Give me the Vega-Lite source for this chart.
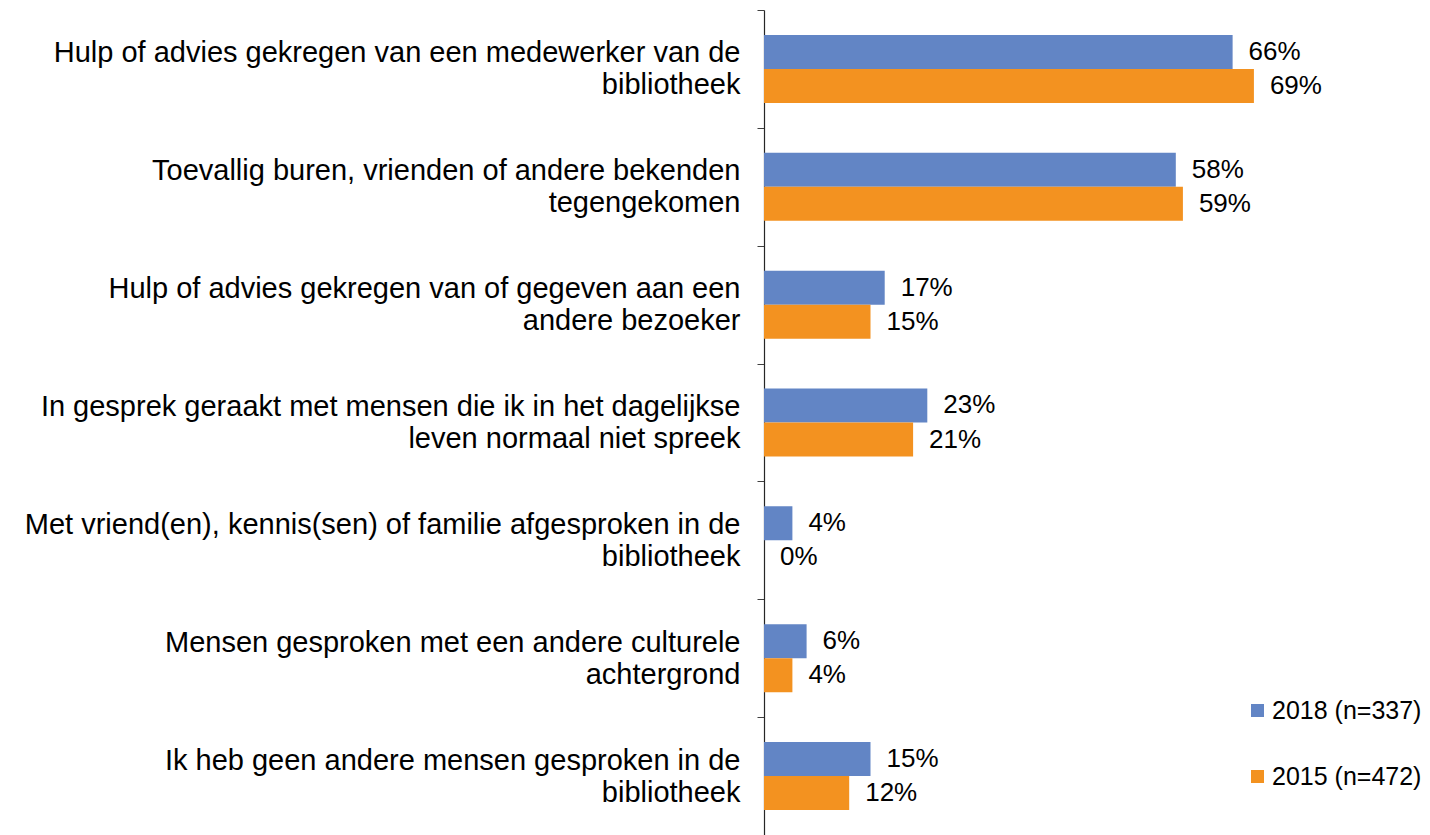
{
  "$schema": "https://vega.github.io/schema/vega-lite/v6.json",
  "autosize": {"type": "none"},
  "padding": {"left": 764, "top": 10, "right": 0, "bottom": 0},
  "width": 666,
  "height": 825,
  "background": "white",
  "config": {
    "view": {"stroke": null},
    "font": "Liberation Sans"
  },
  "data": {
    "values": [
      {"cat": "Hulp of advies gekregen van een medewerker van de|bibliotheek", "series": "2018 (n=337)", "value": 0.66},
      {"cat": "Hulp of advies gekregen van een medewerker van de|bibliotheek", "series": "2015 (n=472)", "value": 0.69},
      {"cat": "Toevallig buren, vrienden of andere bekenden|tegengekomen", "series": "2018 (n=337)", "value": 0.58},
      {"cat": "Toevallig buren, vrienden of andere bekenden|tegengekomen", "series": "2015 (n=472)", "value": 0.59},
      {"cat": "Hulp of advies gekregen van of gegeven aan een|andere bezoeker", "series": "2018 (n=337)", "value": 0.17},
      {"cat": "Hulp of advies gekregen van of gegeven aan een|andere bezoeker", "series": "2015 (n=472)", "value": 0.15},
      {"cat": "In gesprek geraakt met mensen die ik in het dagelijkse|leven normaal niet spreek", "series": "2018 (n=337)", "value": 0.23},
      {"cat": "In gesprek geraakt met mensen die ik in het dagelijkse|leven normaal niet spreek", "series": "2015 (n=472)", "value": 0.21},
      {"cat": "Met vriend(en), kennis(sen) of familie afgesproken in de|bibliotheek", "series": "2018 (n=337)", "value": 0.04},
      {"cat": "Met vriend(en), kennis(sen) of familie afgesproken in de|bibliotheek", "series": "2015 (n=472)", "value": 0.0},
      {"cat": "Mensen gesproken met een andere culturele|achtergrond", "series": "2018 (n=337)", "value": 0.06},
      {"cat": "Mensen gesproken met een andere culturele|achtergrond", "series": "2015 (n=472)", "value": 0.04},
      {"cat": "Ik heb geen andere mensen gesproken in de|bibliotheek", "series": "2018 (n=337)", "value": 0.15},
      {"cat": "Ik heb geen andere mensen gesproken in de|bibliotheek", "series": "2015 (n=472)", "value": 0.12}
    ]
  },
  "encoding": {
    "y": {
      "field": "cat",
      "type": "nominal",
      "sort": null,
      "scale": {"paddingInner": 0, "paddingOuter": 0},
      "axis": {
        "title": null,
        "labelExpr": "split(datum.label, '|')",
        "labelFontSize": 29,
        "labelLineHeight": 32,
        "labelOffset": -16,
        "labelColor": "#000000",
        "labelPadding": 17,
        "labelLimit": 0,
        "tickBand": "extent",
        "tickSize": 7,
        "tickColor": "#404040",
        "domainColor": "#262626",
        "domainWidth": 1.2,
        "grid": false
      }
    },
    "yOffset": {
      "field": "series",
      "type": "nominal",
      "sort": ["2018 (n=337)", "2015 (n=472)"],
      "scale": {"paddingInner": 0, "paddingOuter": 0.733}
    },
    "x": {
      "field": "value",
      "type": "quantitative",
      "scale": {"domain": [0, 0.938], "nice": false, "zero": true},
      "axis": null
    }
  },
  "layer": [
    {
      "mark": {"type": "bar"},
      "encoding": {
        "color": {
          "field": "series",
          "type": "nominal",
          "scale": {"domain": ["2018 (n=337)", "2015 (n=472)"], "range": ["#6285C5", "#F39220"]},
          "legend": {
            "title": null,
            "orient": "none",
            "legendX": 481,
            "legendY": 688,
            "symbolType": "square",
            "symbolSize": 170,
            "symbolStrokeWidth": 0,
            "labelFontSize": 25,
            "labelColor": "#000000",
            "labelOffset": 2,
            "rowPadding": 40,
            "labelLimit": 0
          }
        }
      }
    },
    {
      "mark": {"type": "text", "align": "left", "baseline": "middle", "dx": 16, "fontSize": 26, "color": "#000000"},
      "encoding": {
        "text": {"field": "value", "type": "quantitative", "format": ".0%"}
      }
    }
  ]
}
